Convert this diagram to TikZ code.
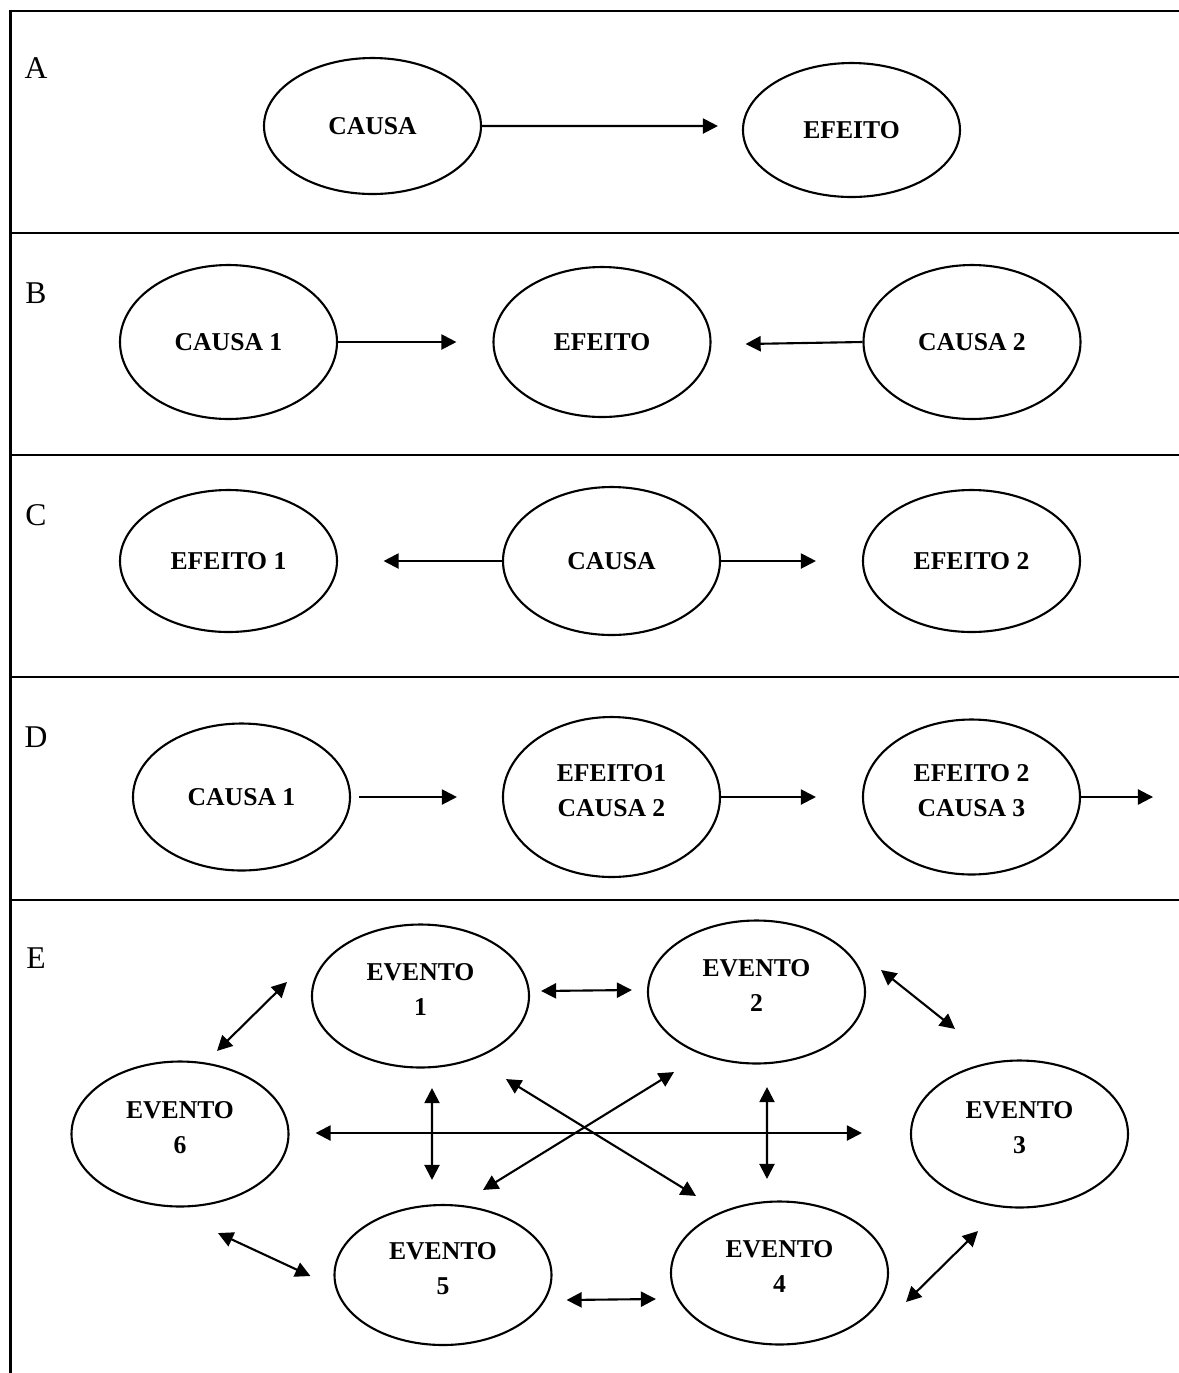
\documentclass[tikz,border=0pt]{standalone}
\usepackage{fontspec}
\setmainfont{Liberation Serif}
\usetikzlibrary{shapes.geometric,arrows.meta,positioning,calc}

\newcommand{\rowfont}{\fontsize{9}{11}\selectfont}
\newcommand{\evtfont}{\fontsize{7.3}{9.7}\selectfont\bfseries}
% two lines, set a little above the middle of the ellipse
\newcommand{\twolines}[2]{#1\\#2\rule[-0.13cm]{0pt}{0pt}}

\begin{document}
\begin{tikzpicture}[
    evt/.style={ellipse, draw, line width=0.6pt, inner sep=0pt, minimum width=2.17cm,
        minimum height=#1, align=center, font=\evtfont},
    evt/.default=1.45cm,
    oneway/.style={line width=0.6pt, -{Triangle[length=4.3pt,width=4.3pt]}},
    twoway/.style={line width=0.6pt, {Triangle[length=4.3pt,width=4.3pt]}-{Triangle[length=4.3pt,width=4.3pt]}},
    rowlbl/.style={font=\rowfont, inner sep=0pt}
]
    \useasboundingbox (0,0) rectangle (11.79,-13.73);

    % --- Frame ---
    \draw[line width=0.8pt] (11.79,-0.11) -- (0.105,-0.11) -- (0.105,-13.73);
    \foreach \yy in {2.33,4.55,6.77,9.00} {
        \draw[line width=0.8pt] (0.105,-\yy) -- (11.79,-\yy);
    }
    \node[rowlbl] (labA) at (0.36,-0.68) {A};
    \node[rowlbl] (labB) at (0.36,-2.93) {B};
    \node[rowlbl] (labC) at (0.36,-5.15) {C};
    \node[rowlbl] (labD) at (0.36,-7.37) {D};
    \node[rowlbl] (labE) at (0.36,-9.58) {E};

    % --- Row A ---
    \node[evt=1.36cm] (causaA) at (3.725,-1.26) {CAUSA};
    \node[evt=1.34cm] (efeitoA) at (8.515,-1.30) {EFEITO};
    \draw[oneway] (causaA.east) -- ([shift={(-0.24,0.04)}]efeitoA.west);

    % --- Row B ---
    \node[evt=1.54cm] (causa1B) at (2.285,-3.42) {CAUSA 1};
    \node[evt=1.50cm] (efeitoB) at (6.02,-3.42) {EFEITO};
    \node[evt=1.54cm] (causa2B) at (9.72,-3.42) {CAUSA 2};
    \draw[oneway] (causa1B.east) -- ([xshift=-0.36cm]efeitoB.west);
    \draw[oneway] (causa2B.west) -- ([shift={(0.34,-0.02)}]efeitoB.east);

    % --- Row C ---
    \node[evt=1.42cm] (efeito1C) at (2.285,-5.61) {EFEITO 1};
    \node[evt=1.48cm] (causaC) at (6.115,-5.61) {CAUSA};
    \node[evt=1.42cm] (efeito2C) at (9.715,-5.61) {EFEITO 2};
    \draw[oneway] (causaC.west) -- ([xshift=0.455cm]efeito1C.east);
    \draw[oneway] (causaC.east) -- ([xshift=-0.46cm]efeito2C.west);

    % --- Row D ---
    \node[evt=1.47cm] (causa1D) at (2.415,-7.97) {CAUSA 1};
    \node[evt=1.60cm] (chainD) at (6.115,-7.97) {\twolines{EFEITO1}{CAUSA 2}};
    \node[evt=1.55cm] (endD) at (9.715,-7.97) {\twolines{EFEITO 2}{CAUSA 3}};
    \coordinate (outD) at ([xshift=0.72cm]endD.east);
    \draw[oneway] ([xshift=0.08cm]causa1D.east) -- ([xshift=-0.45cm]chainD.west);
    \draw[oneway] (chainD.east) -- ([xshift=-0.46cm]endD.west);
    \draw[oneway] (endD.east) -- (outD);

    % --- Row E ---
    \node[evt=1.43cm] (ev1) at (4.205,-9.96) {\twolines{EVENTO}{1}};
    \node[evt=1.43cm] (ev2) at (7.565,-9.92) {\twolines{EVENTO}{2}};
    \node[evt=1.45cm] (ev6) at (1.80,-11.34) {\twolines{EVENTO}{6}};
    \node[evt=1.47cm] (ev3) at (10.195,-11.34) {\twolines{EVENTO}{3}};
    \node[evt=1.40cm] (ev5) at (4.43,-12.75) {\twolines{EVENTO}{5}};
    \node[evt=1.43cm] (ev4) at (7.795,-12.73) {\twolines{EVENTO}{4}};
    % around the ring
    \draw[twoway] ([shift={(0.11,0.05)}]ev1.east) -- ([shift={(-0.15,0.02)}]ev2.west);
    \draw[twoway] ([shift={(0.37,0.095)}]ev6.north) -- ([shift={(-0.24,0.14)}]ev1.west);
    \draw[twoway] ([shift={(0.15,0.22)}]ev2.east) -- ([shift={(-0.645,0.305)}]ev3.north);
    \draw[twoway] ([shift={(0.38,-0.255)}]ev6.south) -- ([shift={(-0.23,-0.01)}]ev5.west);
    \draw[twoway] ([shift={(0.14,-0.25)}]ev5.east) -- ([shift={(-0.14,-0.26)}]ev4.west);
    \draw[twoway] ([shift={(0.17,-0.29)}]ev4.east) -- ([shift={(-0.415,-0.225)}]ev3.south);
    % across the ring
    \draw[twoway] ([shift={(0.26,0.01)}]ev6.east) -- ([shift={(-0.48,0.01)}]ev3.west);
    \draw[twoway] ([shift={(0.115,-0.195)}]ev1.south) -- ([shift={(-0.11,0.24)}]ev5.north);
    \draw[twoway] ([shift={(0.105,-0.225)}]ev2.south) -- ([shift={(-0.125,0.215)}]ev4.north);
    \draw[twoway] ([shift={(0.855,-0.105)}]ev1.south) -- ([shift={(-0.835,0.045)}]ev4.north);
    \draw[twoway] ([shift={(-0.825,-0.075)}]ev2.south) -- ([shift={(0.40,0.14)}]ev5.north);
\end{tikzpicture}
\end{document}
